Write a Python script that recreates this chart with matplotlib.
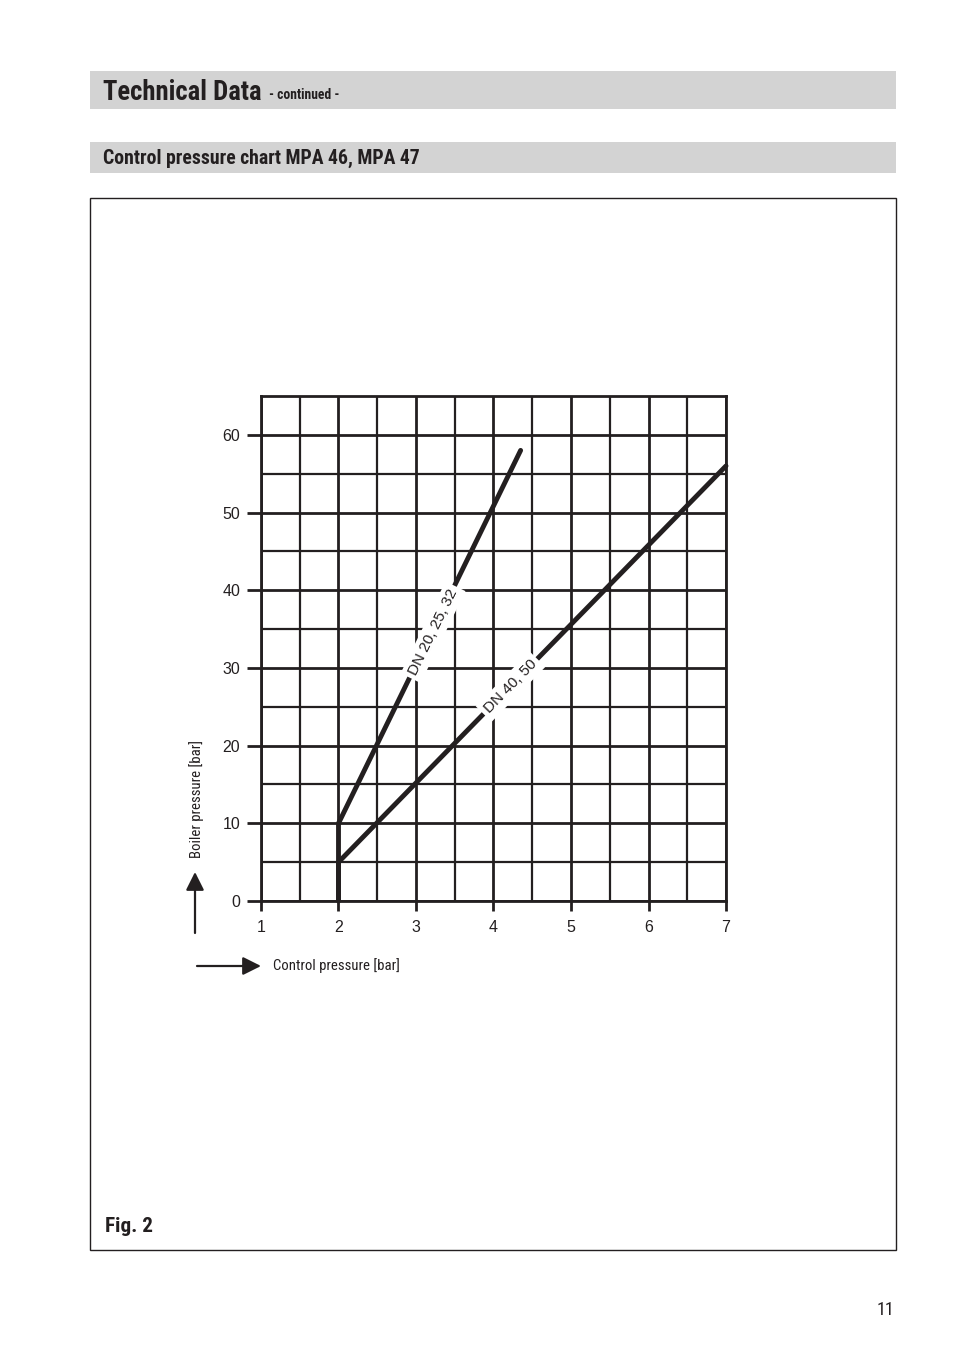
import math
import matplotlib
matplotlib.use("Agg")
import matplotlib.pyplot as plt
from matplotlib.patches import Rectangle

# data
ctrl_ticks = [1, 2, 3, 4, 5, 6, 7]
boiler_ticks = [0, 10, 20, 30, 40, 50, 60]
dn20_x = [2.0, 2.0, 4.35]
dn20_y = [0.0, 10.0, 58.0]
dn40_x = [2.0, 2.0, 7.0]
dn40_y = [0.0, 5.0, 56.0]

W, H = 954, 1354
INK = '#231f20'
GREY = '#d3d3d3'
NARROW = ['Roboto Condensed', 'Liberation Sans', 'DejaVu Sans']

plt.rcParams['font.family'] = ['Liberation Sans', 'DejaVu Sans']


def fx(x):
    return x / W


def fy(y):
    return 1 - y / H


fig = plt.figure(figsize=(W / 100, H / 100), dpi=100)

# header bands
fig.add_artist(Rectangle((fx(90), fy(109)), fx(896) - fx(90), (109 - 71) / H,
                         transform=fig.transFigure, facecolor=GREY, edgecolor='none'))
fig.add_artist(Rectangle((fx(90), fy(173)), fx(896) - fx(90), (173 - 142) / H,
                         transform=fig.transFigure, facecolor=GREY, edgecolor='none'))
fig.text(fx(103), fy(100), 'Technical Data', family=NARROW, weight='bold',
         fontsize=19.2, color=INK, va='baseline')
fig.text(fx(269), fy(99), '- continued -', family=NARROW, weight='bold',
         fontsize=9.8, color=INK, va='baseline')
fig.text(fx(103), fy(158), 'Control pressure chart MPA 46, MPA 47', family=NARROW,
         weight='bold', fontsize=14.2, color=INK, va='center')

# frame around figure
fig.add_artist(Rectangle((fx(90), fy(1250)), fx(896) - fx(90), (1250 - 198) / H,
                         transform=fig.transFigure, facecolor='none', edgecolor=INK, lw=1))
fig.text(fx(105), fy(1227), 'Fig. 2', family=NARROW, weight='bold',
         fontsize=15.2, color=INK, va='center')
fig.text(fx(894), fy(1310), '11', family=NARROW, fontsize=13, color=INK,
         va='center', ha='right')

ax = fig.add_axes([fx(261), fy(901), fx(726) - fx(261), (901 - 396) / H])
ax.set_xlim(1, 7)
ax.set_ylim(0, 65)
ax.set_xticks(ctrl_ticks)
ax.set_yticks(boiler_ticks)
ax.set_xticks([1.5, 2.5, 3.5, 4.5, 5.5, 6.5], minor=True)
ax.set_yticks([5, 15, 25, 35, 45, 55], minor=True)
ax.grid(which='major', color=INK, lw=2.0, zorder=1)
ax.grid(which='minor', color=INK, lw=1.6, zorder=1)
ax.tick_params(which='minor', length=0)
ax.tick_params(axis='y', which='major', length=10, width=2.0, pad=5,
               labelsize=11.5, colors=INK)
ax.tick_params(axis='x', which='major', length=7.5, width=2.0, pad=6,
               labelsize=11.5, colors=INK)
for s in ax.spines.values():
    s.set_linewidth(2.0)
    s.set_color(INK)
ax.set_axisbelow(True)

ax.plot(dn20_x, dn20_y, color=INK, lw=3.5, solid_capstyle='round',
        solid_joinstyle='round', zorder=3)
ax.plot(dn40_x, dn40_y, color=INK, lw=3.5, solid_capstyle='round',
        solid_joinstyle='round', zorder=3, clip_on=False)


def line_angle(xs, ys):
    p0 = ax.transData.transform((xs[-2], ys[-2]))
    p1 = ax.transData.transform((xs[-1], ys[-1]))
    return math.degrees(math.atan2(p1[1] - p0[1], p1[0] - p0[0]))


box = dict(facecolor='white', edgecolor='none', pad=3)
ax.text(3.22, 34.6, 'DN 20, 25, 32', rotation=line_angle(dn20_x, dn20_y),
        rotation_mode='anchor', ha='center', va='center', fontsize=11,
        color=INK, bbox=box, zorder=4)
ax.text(4.22, 27.6, 'DN 40, 50', rotation=line_angle(dn40_x, dn40_y),
        rotation_mode='anchor', ha='center', va='center', fontsize=11,
        color=INK, bbox=box, zorder=4)

# axis captions with arrows
fig.text(fx(197), fy(799), 'Boiler pressure [bar]', family=NARROW, fontsize=10.6,
         color=INK, rotation=90, ha='center', va='center')
fig.text(fx(273), fy(966), 'Control pressure [bar]', family=NARROW, fontsize=10.6,
         color=INK, ha='left', va='center')
arr = dict(arrowstyle='-|>,head_length=1.1,head_width=0.55', color=INK, lw=1.6,
           shrinkA=0, shrinkB=0)
ax.annotate('', xy=(fx(195), fy(872)), xytext=(fx(195), fy(933)),
            xycoords='figure fraction', textcoords='figure fraction', arrowprops=arr)
ax.annotate('', xy=(fx(261), fy(966)), xytext=(fx(197), fy(966)),
            xycoords='figure fraction', textcoords='figure fraction', arrowprops=arr)

fig.savefig('out.png', dpi=100)
